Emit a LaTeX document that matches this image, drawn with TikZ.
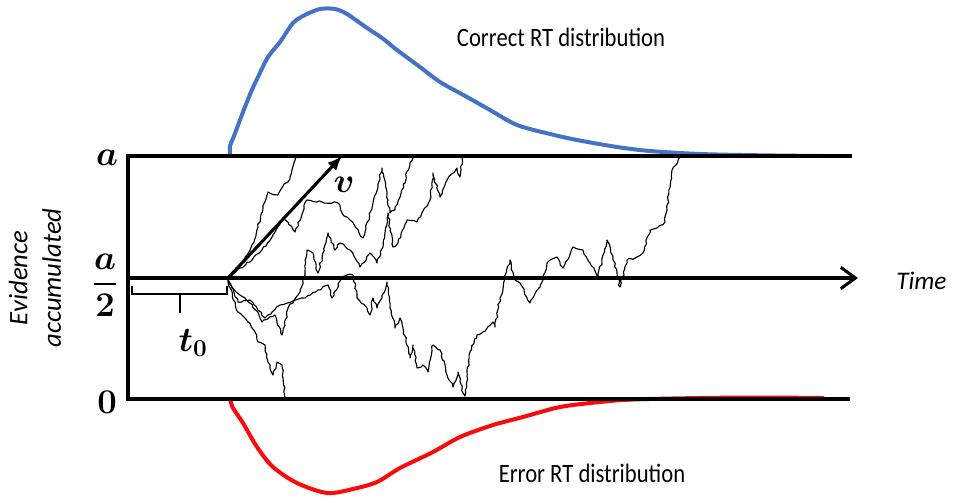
\RequirePackage{fix-cm}
\documentclass[tikz,border=0pt]{standalone}
\usepackage{amsmath,bm}
\usepackage{fontspec}
\setmainfont{Carlito}
\usetikzlibrary{arrows.meta,decorations.pathmorphing}
\definecolor{rtblue}{RGB}{68,114,196}
\definecolor{rtred}{RGB}{250,10,10}
\begin{document}
\begin{tikzpicture}[x=0.75pt,y=-0.75pt,
  frame/.style={line width=2.3pt, line cap=butt, line join=miter},
  walk/.style={line width=0.85pt, black, line join=round, decorate,
    decoration={random steps, segment length=2.4pt, amplitude=0.8pt}},
  dist/.style={line width=3pt, line join=round, line cap=round},
  mathlbl/.style={font=\fontsize{26}{30}\selectfont, inner sep=0pt},
  txt/.style={font=\fontsize{17}{20}\selectfont, inner sep=0pt},
  itxt/.style={font=\fontsize{19}{23}\selectfont\itshape, inner sep=0pt, align=center}
]
\useasboundingbox (0,0) rectangle (957,500);
\pgfmathsetseed{4321}
% coordinates
\coordinate (tl) at (128,156);
\coordinate (tr) at (852,156);
\coordinate (bl) at (128,399);
\coordinate (br) at (850,399);
\coordinate (ml) at (128,278);
\coordinate (mr) at (858,278);
\coordinate (z) at (228,278);
\coordinate (vend) at (342,156);
\coordinate (b1) at (132,286);
\coordinate (b2) at (132,294);
\coordinate (b3) at (227,294);
\coordinate (b4) at (227,286);
\coordinate (t1) at (180,294);
\coordinate (t2) at (180,313);

% distributions
\draw[dist, rtblue] plot[smooth, tension=0.5] coordinates {
 (230,156) (230,146) (234,136) (243,112) (251,92) (258,77) (268,57) (280,42)
 (293,23) (305,15) (320,9) (335,9) (347,14) (367,28) (382,38) (397,50)
 (420,67) (440,82) (467,97) (490,110) (517,125) (550,134) (577,140)
 (617,147) (650,151) (700,154) (760,155.3) (823,156)};
\draw[dist, rtred] plot[smooth, tension=0.5] coordinates {
 (230,399) (233,408) (243,423) (257,447) (273,467) (297,483) (327,493)
 (353,489) (377,482) (400,468) (433,452) (460,437) (493,425) (523,417)
 (560,407) (600,402) (633,399.5) (700,398) (760,397.5) (823,398)};

% random walks
\draw[walk] (z) -- (236,268) -- (243,262) -- (252,245) -- (258,227) -- (263,208)
 -- (268,192) -- (278,195) -- (283,186) -- (288,182) -- (292,170) -- (295,160) -- (296,157);
\draw[walk] (z) -- (240,268) -- (252,260) -- (262,250) -- (272,237) -- (283,218)
 -- (295,232) -- (307,200) -- (322,202) -- (338,203) -- (342,213) -- (350,220)
 -- (363,238) -- (373,203) -- (382,168) -- (388,200) -- (390,213) -- (395,210)
 -- (400,197) -- (410,163) -- (413,157);
\draw[walk] (z) -- (232,288) -- (245,298) -- (258,312) -- (262,322) -- (275,315)
 -- (282,335) -- (288,308) -- (298,295) -- (305,275) -- (307,250) -- (313,253)
 -- (318,273) -- (328,233) -- (335,250) -- (340,243) -- (350,250) -- (360,267)
 -- (370,253) -- (377,263) -- (383,247) -- (388,213) -- (393,247) -- (398,243)
 -- (407,220) -- (417,222) -- (430,200) -- (433,173) -- (440,197) -- (447,180)
 -- (457,168) -- (460,177) -- (462,157);
\draw[walk] (z) -- (238,302) -- (250,300) -- (265,318) -- (280,305) -- (295,300)
 -- (305,298) -- (318,290) -- (328,285) -- (332,298) -- (342,278) -- (347,275)
 -- (353,275) -- (357,298) -- (367,308) -- (370,315) -- (373,298) -- (377,308)
 -- (382,298) -- (387,282) -- (390,308) -- (395,328) -- (400,318) -- (403,328)
 -- (410,358) -- (413,345) -- (417,368) -- (423,365) -- (428,372) -- (433,345)
 -- (440,350) -- (447,375) -- (453,387) -- (458,372) -- (463,393) -- (465,396)
 -- (470,352) -- (477,335) -- (483,332) -- (493,322) -- (495,327) -- (500,298)
 -- (510,260) -- (515,280) -- (520,283) -- (530,303) -- (540,287) -- (547,263)
 -- (557,257) -- (563,268) -- (573,247) -- (583,250) -- (590,263) -- (598,277)
 -- (607,240) -- (613,257) -- (620,287) -- (627,260) -- (637,257) -- (643,253)
 -- (650,230) -- (657,228) -- (665,222) -- (668,200) -- (672,170) -- (680,157);
\draw[walk] (z) -- (228,282) -- (238,312) -- (248,322) -- (255,332) -- (258,342)
 -- (265,345) -- (268,362) -- (273,375) -- (277,362) -- (282,365) -- (283,378)
 -- (285,398);

% frame and axes
\draw[frame] (tr) -- (tl) -- (bl) -- (br);
\draw[frame, -{Straight Barb[length=11pt,width=16pt,line width=2.3pt]}] (ml) -- (mr);
\draw[line width=2.3pt, -{Latex[length=11pt,width=9pt]}] (z) -- (vend);
\draw[line width=1.7pt, line join=miter] (b1) -- (b2) -- (b3) -- (b4);
\draw[line width=1.7pt] (t1) -- (t2);

% labels
\node[mathlbl] (la) at (107,158) {$\bm{a}$};
\node[mathlbl] (lhalf) at (105,285) {$\dfrac{\bm{a}}{\bm{2}}$};
\node[mathlbl] (lzero) at (107,402) {$\bm{0}$};
\node[mathlbl] (lt) at (193,343) {$\bm{t_0}$};
\node[mathlbl] (lv) at (344,185) {$\bm{v}$};
\node[itxt, anchor=west] (ltime) at (896,281) {Time};
\node[itxt, rotate=90, font=\fontsize{20}{25}\selectfont\itshape] (levid) at (35,278) {Evidence\\accumulated};
\node[txt] (lcorr) at (561,37) {\scalebox{1}[1.17]{Correct RT distribution}};
\node[txt] (lerr) at (592,473) {\scalebox{1}[1.17]{Error RT distribution}};
\end{tikzpicture}
\end{document}
